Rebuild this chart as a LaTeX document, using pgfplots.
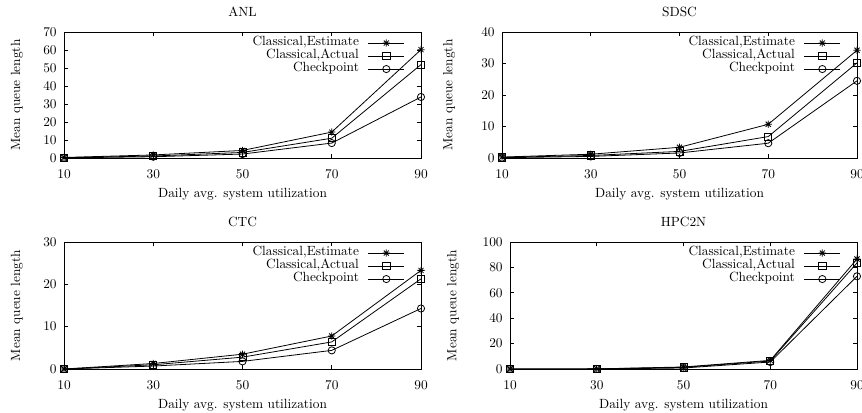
\documentclass[border=0pt]{standalone}
\usepackage{pgfplots}
\pgfplotsset{compat=1.18}
\pgfdeclareplotmark{gpstar}{%
  \pgfpathmoveto{\pgfqpoint{-\pgfplotmarksize}{0pt}}\pgfpathlineto{\pgfqpoint{\pgfplotmarksize}{0pt}}%
  \pgfpathmoveto{\pgfqpoint{0pt}{-\pgfplotmarksize}}\pgfpathlineto{\pgfqpoint{0pt}{\pgfplotmarksize}}%
  \pgfpathmoveto{\pgfqpoint{-0.7071\pgfplotmarksize}{-0.7071\pgfplotmarksize}}\pgfpathlineto{\pgfqpoint{0.7071\pgfplotmarksize}{0.7071\pgfplotmarksize}}%
  \pgfpathmoveto{\pgfqpoint{-0.7071\pgfplotmarksize}{0.7071\pgfplotmarksize}}\pgfpathlineto{\pgfqpoint{0.7071\pgfplotmarksize}{-0.7071\pgfplotmarksize}}%
  \pgfusepathqstroke}
\pgfplotsset{
  gp/.style={
    scale only axis,
    anchor=south west,
    xmin=10, xmax=90,
    xtick={10,30,50,70,90},
    tick align=inside,
    major tick length=3pt,
    minor tick num=0,
    axis line style={line width=0.6pt},
    every tick/.style={line width=0.5pt, black},
    xticklabel style={anchor=center, yshift=-12.4pt},
    yticklabel style={xshift=-2pt},
    xlabel={Daily avg. system utilization},
    ylabel={Mean queue length},
    xlabel style={at={(axis description cs:0.5,0)}, anchor=center, yshift=-27.2pt},
    title style={at={(axis description cs:0.5,1)}, anchor=center, yshift=9.4pt},
    legend cell align=right,
    legend plot pos=right,
    legend style={at={(1,1)}, anchor=north east, xshift=-12pt, yshift=-3.2pt,
      draw=none, fill=none, inner sep=0pt, row sep=0pt, column sep=6.75pt,
      nodes={inner sep=0pt, text height=7pt, text depth=2.75pt}},
    legend image code/.code={\draw[mark repeat=2,mark phase=2,#1] plot coordinates {(0pt,0pt) (13.5pt,0pt) (27pt,0pt)};},
    every axis plot/.append style={black, line width=0.6pt, mark size=2.7pt, mark options={solid, line width=0.6pt}},
  },
  est/.style={mark=gpstar},
  act/.style={mark=square},
  chk/.style={mark=o},
}
\begin{document}
\begin{tikzpicture}
\useasboundingbox (0,0) rectangle (646.5pt,-309pt);
% ANL
\begin{axis}[gp, at={(48pt,-118.5pt)}, width=267.75pt, height=94.5pt,
  ymin=0, ymax=70, ytick={0,10,20,30,40,50,60,70}, title={ANL},
  ylabel style={at={(axis description cs:-0.1317,0.5)}, anchor=center}]
\addplot[est] coordinates {(10,0.3) (30,1.7) (50,4.2) (70,14.4) (90,60.2)};
\addplot[act] coordinates {(10,0.2) (30,1.1) (50,3.1) (70,11.0) (90,51.9)};
\addplot[chk] coordinates {(10,0.1) (30,0.7) (50,2.2) (70,8.3) (90,33.9)};
\legend{Classical{,}Estimate, Classical{,}Actual, Checkpoint}
\end{axis}
% SDSC
\begin{axis}[gp, at={(376.5pt,-118.5pt)}, width=266.25pt, height=94.5pt,
  ymin=0, ymax=40, ytick={0,10,20,30,40}, title={SDSC},
  ylabel style={at={(axis description cs:-0.149,0.5)}, anchor=center}]
\addplot[est] coordinates {(10,0.3) (30,1.2) (50,3.4) (70,10.7) (90,34.2)};
\addplot[act] coordinates {(10,0.2) (30,0.8) (50,2.1) (70,6.8) (90,30.2)};
\addplot[chk] coordinates {(10,0.1) (30,0.5) (50,1.6) (70,4.7) (90,24.5)};
\legend{Classical{,}Estimate, Classical{,}Actual, Checkpoint}
\end{axis}
% CTC
\begin{axis}[gp, at={(48pt,-276.75pt)}, width=267.75pt, height=95.25pt,
  ymin=0, ymax=30, ytick={0,10,20,30}, title={CTC},
  ylabel style={at={(axis description cs:-0.1317,0.5)}, anchor=center}]
\addplot[est] coordinates {(10,0) (30,1.3) (50,3.5) (70,7.8) (90,23.3)};
\addplot[act] coordinates {(10,0) (30,1.0) (50,2.8) (70,6.4) (90,21.3)};
\addplot[chk] coordinates {(10,0) (30,0.7) (50,1.8) (70,4.4) (90,14.3)};
\legend{Classical{,}Estimate, Classical{,}Actual, Checkpoint}
\end{axis}
% HPC2N
\begin{axis}[gp, at={(382.5pt,-276.75pt)}, width=260.25pt, height=95.25pt,
  ymin=0, ymax=100, ytick={0,20,40,60,80,100}, title={HPC2N},
  ylabel style={at={(axis description cs:-0.164,0.5)}, anchor=center}]
\addplot[est] coordinates {(10,0) (30,0.1) (50,1.6) (70,6.8) (90,86.6)};
\addplot[act] coordinates {(10,0) (30,0.1) (50,1.3) (70,6.3) (90,83.5)};
\addplot[chk] coordinates {(10,0) (30,0.05) (50,0.8) (70,5.5) (90,73.0)};
\legend{Classical{,}Estimate, Classical{,}Actual, Checkpoint}
\end{axis}
\end{tikzpicture}
\end{document}
